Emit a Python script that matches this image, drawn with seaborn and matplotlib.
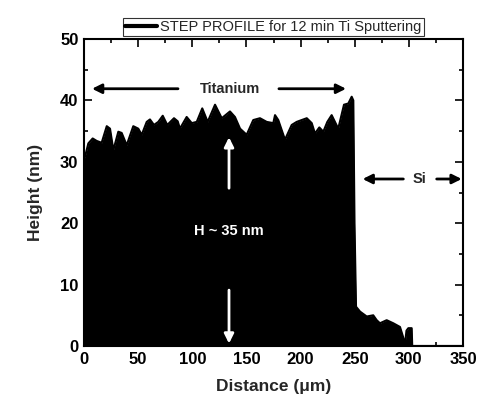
import matplotlib
matplotlib.use("Agg")
import matplotlib.pyplot as plt
from matplotlib.ticker import MultipleLocator
import seaborn as sns
import pandas as pd

distance = [0.0, 0.9, 4.0, 8.0, 11.7, 16.3, 21.0, 24.0, 27.1, 31.7, 34.8, 39.4, 45.5, 50.1,
            53.3, 57.9, 60.9, 64.6, 68.6, 72.7, 76.9, 83.1, 86.5, 88.6, 94.8, 99.5, 104.1,
            109.2, 114.2, 121.0, 127.2, 134.8, 139.4, 144.1, 150.2, 156.3, 162.5, 168.7,
            174.8, 176.4, 179.4, 185.6, 191.8, 196.4, 201.0, 205.7, 210.3, 213.3, 217.3,
            221.0, 224.7, 228.7, 234.8, 240.1, 244.1, 247.2, 248.7, 249.8, 251.2, 254.9,
            261.1, 267.1, 270.3, 273.3, 279.5, 285.6, 291.8, 294.6, 296.4, 297.8, 299.5,
            302.6, 303.1, 320.0, 350.0]
height = [30.5, 30.8, 33.0, 33.8, 33.4, 33.1, 35.8, 35.4, 31.9, 34.9, 34.7, 32.7, 35.8, 35.4,
          34.4, 36.5, 36.9, 36.0, 36.5, 37.5, 36.0, 37.1, 36.6, 35.4, 37.3, 36.3, 36.5,
          38.7, 36.5, 39.3, 37.1, 38.2, 37.3, 35.4, 34.4, 36.8, 37.1, 36.5,
          36.3, 37.6, 36.8, 33.6, 36.0, 36.5, 36.8, 37.1, 36.3, 34.6, 35.6,
          34.9, 36.5, 37.6, 35.4, 39.3, 39.5, 40.6, 40.0, 20.0, 6.4, 5.6,
          4.8, 5.0, 4.2, 3.7, 4.2, 3.7, 3.1, 1.5, 0.2, 2.5, 2.9,
          2.9, 0.0, 0.0, 0.0]

legend_label = "STEP PROFILE for 12 min Ti Sputtering"

df = pd.DataFrame({"Distance": distance, "Height": height})

sns.set_style("ticks")
plt.rcParams["font.family"] = ["Liberation Sans", "DejaVu Sans"]

fig = plt.figure(figsize=(4.79, 4.01), dpi=100)
ax = fig.add_axes([0.1754, 0.1372, 0.7912, 0.7655])

sns.lineplot(data=df, x="Distance", y="Height", ax=ax, color="black", lw=1.5,
             label=legend_label, legend=False)
ax.fill_between(df["Distance"], 0, df["Height"], color="black", lw=0)

ax.set_xlim(0, 350)
ax.set_ylim(0, 50)
ax.xaxis.set_major_locator(MultipleLocator(50))
ax.xaxis.set_minor_locator(MultipleLocator(25))
ax.yaxis.set_major_locator(MultipleLocator(10))
ax.yaxis.set_minor_locator(MultipleLocator(5))
ax.tick_params(which="both", direction="in", top=True, right=True, width=1.2, colors="black")
ax.tick_params(which="major", length=6, labelsize=12, pad=4)
ax.tick_params(which="minor", length=3)
for lab in ax.get_xticklabels() + ax.get_yticklabels():
    lab.set_fontweight("bold")
for s in ax.spines.values():
    s.set_linewidth(1.5)
    s.set_color("black")

ax.set_xlabel("Distance (μm)", fontsize=12.5, fontweight="bold", labelpad=9)
ax.set_ylabel("Height (nm)", fontsize=12.5, fontweight="bold", labelpad=12)

leg = ax.legend(loc="lower center", bbox_to_anchor=(0.5, 1.01), frameon=True,
                fancybox=False, edgecolor="black", fontsize=10.5, handlelength=2.2,
                handletextpad=0.2, borderpad=0.15, borderaxespad=0)
leg.get_frame().set_linewidth(0.8)
for l in leg.get_lines():
    l.set_linewidth(3)

black_arrow = dict(arrowstyle="-|>", color="black", lw=2, mutation_scale=14, shrinkA=0, shrinkB=0)
white_arrow = dict(arrowstyle="-|>", color="white", lw=2, mutation_scale=14, shrinkA=0, shrinkB=0)

ax.annotate("", xy=(7.4, 41.9), xytext=(86.8, 41.9), arrowprops=black_arrow)
ax.annotate("", xy=(242, 41.9), xytext=(180, 41.9), arrowprops=black_arrow)
ax.text(134.8, 41.9, "Titanium", ha="center", va="center", fontsize=10.5, fontweight="bold")

ax.annotate("", xy=(257.3, 27.2), xytext=(294.9, 27.2), arrowprops=black_arrow)
ax.annotate("", xy=(348.8, 27.2), xytext=(325.7, 27.2), arrowprops=black_arrow)
ax.text(309.4, 27.2, "Si", ha="center", va="center", fontsize=10.5, fontweight="bold")

ax.annotate("", xy=(133.9, 34.0), xytext=(133.9, 25.7), arrowprops=white_arrow)
ax.annotate("", xy=(133.9, 0.4), xytext=(133.9, 9.1), arrowprops=white_arrow)
ax.text(133.9, 18.7, "H ~ 35 nm", ha="center", va="center", fontsize=10.5,
        fontweight="bold", color="white")

fig.savefig("out.png", dpi=100)
